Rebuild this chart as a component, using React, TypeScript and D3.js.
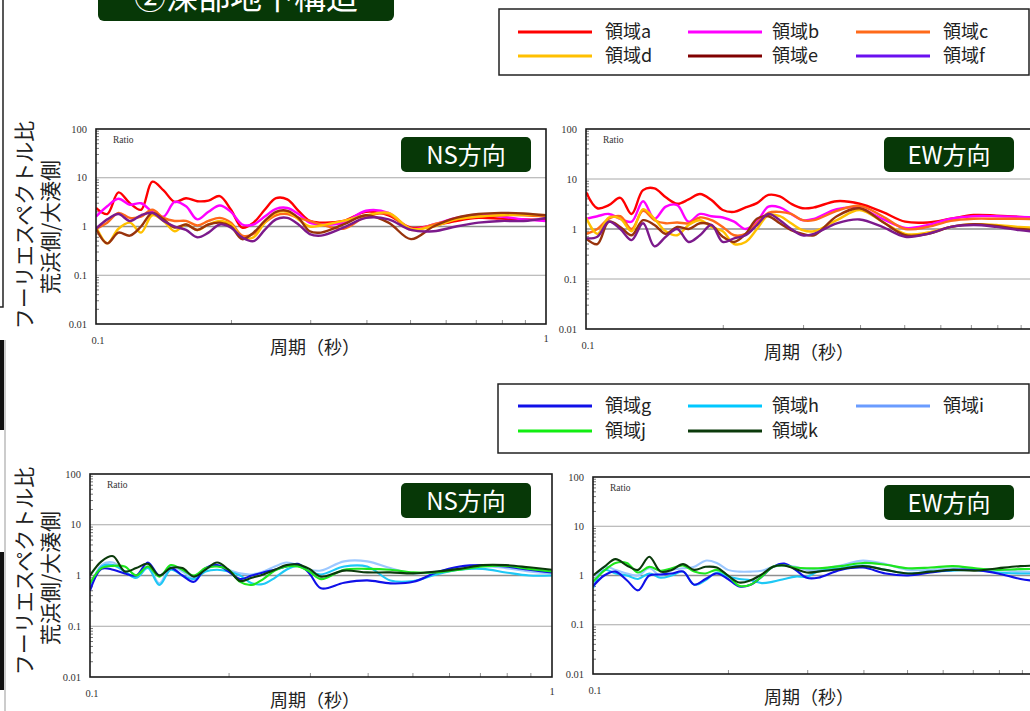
import React from "react";
import * as d3 from "d3";

// periods (s) shared by every curve
const periods = [
  0.1, 0.1059, 0.1122, 0.1189, 0.1259, 0.1334, 0.1413, 0.1496, 0.1585, 0.1679, 0.1778,
  0.1884, 0.1995, 0.2113, 0.2239, 0.2371, 0.2512, 0.2661, 0.2818, 0.2985, 0.3162,
  0.3548, 0.3981, 0.4467, 0.5012, 0.5623, 0.631, 0.7079, 0.7943, 0.8913, 1.0,
];

// upper group, NS
const nsA = [2.4, 1.8, 5.0, 3.0, 2.2, 8.3, 5.5, 3.2, 3.8, 3.3, 3.4, 4.2, 2.2, 0.95, 1.2, 2.2, 3.8, 3.6, 2.1, 1.3, 1.2, 1.3, 2.0, 1.7, 0.95, 1.05, 1.3, 1.5, 1.45, 1.4, 1.35];
const nsB = [1.6, 2.6, 3.7, 2.8, 3.0, 2.0, 1.6, 3.2, 2.6, 1.4, 2.0, 2.7, 2.0, 1.1, 1.1, 1.6, 2.3, 2.4, 1.8, 1.2, 1.1, 1.2, 2.1, 1.9, 0.9, 1.1, 1.5, 1.75, 1.6, 1.4, 1.3];
const nsC = [0.9, 1.2, 1.9, 1.5, 1.6, 2.2, 1.5, 1.3, 1.3, 1.05, 1.3, 1.5, 1.2, 0.65, 0.7, 1.2, 1.7, 1.8, 1.5, 1.3, 1.1, 0.9, 1.6, 1.8, 0.85, 1.1, 1.4, 1.6, 1.7, 1.7, 1.6];
const nsD = [1.0, 0.45, 0.9, 1.2, 0.75, 1.7, 1.3, 0.8, 1.1, 0.85, 1.1, 1.3, 1.1, 0.6, 0.6, 1.2, 1.9, 2.0, 1.4, 1.0, 1.05, 1.3, 1.7, 1.9, 0.9, 1.0, 1.4, 1.6, 1.7, 1.75, 1.7];
const nsE = [0.9, 0.45, 0.75, 0.65, 1.0, 1.9, 1.4, 0.95, 1.1, 0.85, 1.1, 1.2, 1.0, 0.55, 0.75, 1.3, 2.0, 2.1, 1.5, 0.8, 0.75, 1.1, 1.7, 1.2, 0.55, 1.0, 1.5, 1.8, 1.9, 1.85, 1.7];
const nsF = [0.9, 1.4, 1.8, 1.3, 1.7, 1.9, 1.3, 1.0, 0.85, 0.6, 0.75, 1.1, 0.95, 0.6, 0.5, 0.85, 1.4, 1.5, 1.1, 0.7, 0.65, 0.95, 1.5, 1.4, 0.85, 0.8, 1.0, 1.2, 1.3, 1.3, 1.5];

// upper group, EW
const ewA = [5.5, 2.6, 3.0, 4.2, 2.0, 6.0, 6.5, 4.3, 3.2, 3.9, 5.0, 3.8, 2.4, 2.2, 2.7, 3.3, 4.8, 4.5, 3.2, 2.6, 2.7, 3.6, 3.2, 2.2, 1.4, 1.35, 1.6, 1.9, 1.85, 1.75, 1.6];
const ewB = [1.6, 1.8, 2.0, 1.6, 1.4, 3.6, 1.6, 2.8, 3.0, 1.4, 2.0, 1.8, 1.7, 1.4, 1.0, 1.4, 2.8, 2.7, 2.0, 1.5, 1.6, 2.5, 2.6, 1.6, 1.05, 1.2, 1.6, 1.8, 1.8, 1.75, 1.7];
const ewC = [0.8, 1.0, 1.6, 1.8, 1.0, 2.3, 1.5, 1.3, 1.35, 1.3, 1.7, 1.5, 1.1, 0.75, 0.8, 1.3, 2.1, 2.2, 2.0, 1.5, 1.5, 2.3, 2.9, 1.8, 1.0, 1.1, 1.45, 1.6, 1.6, 1.6, 1.55];
const ewD = [1.7, 0.8, 1.7, 1.6, 0.9, 2.5, 1.6, 0.9, 0.75, 1.2, 1.5, 1.1, 0.9, 0.5, 0.55, 1.0, 1.9, 1.8, 1.3, 0.95, 0.9, 1.5, 2.4, 1.4, 0.8, 0.85, 1.1, 1.25, 1.2, 1.1, 1.05];
const ewE = [0.65, 0.5, 1.4, 1.1, 0.75, 1.5, 1.2, 0.8, 1.1, 1.0, 1.3, 1.2, 0.7, 0.55, 0.8, 1.6, 1.8, 1.3, 0.95, 0.8, 0.75, 1.8, 2.6, 1.4, 0.75, 0.8, 1.1, 1.25, 1.15, 1.0, 0.95];
const ewF = [0.65, 0.7, 1.4, 1.0, 0.6, 1.3, 0.45, 0.7, 1.0, 0.55, 0.75, 1.2, 0.55, 0.65, 0.75, 1.2, 2.0, 1.5, 1.0, 0.75, 0.8, 1.3, 1.55, 1.1, 0.7, 0.8, 1.1, 1.2, 1.1, 0.95, 0.85];

// lower group, NS
const nsG = [0.5, 1.35, 1.3, 1.1, 1.0, 1.8, 1.0, 1.4, 1.0, 0.75, 1.4, 1.6, 1.2, 0.85, 1.0, 1.15, 1.3, 1.5, 1.7, 1.1, 0.56, 0.72, 0.8, 0.7, 0.75, 1.15, 1.5, 1.6, 1.5, 1.3, 1.15];
const nsH = [0.55, 1.5, 1.6, 1.2, 0.9, 1.4, 0.65, 1.3, 1.0, 0.85, 1.2, 1.3, 1.2, 1.0, 0.7, 0.68, 0.9, 1.3, 1.55, 1.2, 1.05, 1.5, 1.5, 0.8, 0.78, 1.05, 1.3, 1.35, 1.15, 1.0, 1.0];
const nsI = [0.55, 1.6, 1.8, 1.2, 0.9, 1.5, 0.7, 1.5, 1.2, 0.9, 1.3, 1.6, 1.3, 1.1, 1.05, 1.2, 1.5, 1.8, 1.6, 1.3, 1.25, 1.9, 1.9, 1.4, 1.1, 1.2, 1.45, 1.55, 1.4, 1.2, 1.1];
const nsJ = [0.7, 1.4, 1.55, 1.5, 1.0, 1.5, 0.95, 1.6, 1.3, 1.0, 1.4, 1.5, 1.3, 0.75, 0.65, 0.85, 1.25, 1.5, 1.5, 1.2, 0.85, 1.3, 1.35, 1.3, 1.15, 1.15, 1.3, 1.5, 1.55, 1.35, 1.2];
const nsK = [1.0, 1.9, 2.4, 1.2, 1.4, 1.7, 1.0, 1.4, 1.4, 0.95, 1.3, 1.8, 1.3, 0.78, 0.9, 1.05, 1.3, 1.6, 1.65, 1.35, 0.95, 1.25, 1.15, 1.15, 1.1, 1.2, 1.35, 1.6, 1.6, 1.45, 1.3];

// lower group, EW
const ewG = [0.6, 1.0, 1.2, 0.8, 0.5, 1.0, 1.05, 1.1, 1.2, 0.65, 0.85, 1.1, 0.85, 0.6, 0.65, 0.95, 1.5, 1.75, 1.3, 0.9, 0.9, 1.3, 1.45, 1.1, 1.0, 1.15, 1.3, 1.3, 1.1, 0.85, 0.75];
const ewH = [0.55, 1.3, 1.1, 1.0, 0.85, 1.1, 0.9, 1.0, 1.2, 0.65, 0.8, 1.15, 0.95, 0.85, 0.8, 0.7, 0.75, 0.85, 0.95, 0.95, 1.2, 1.4, 1.6, 1.3, 1.1, 1.2, 1.25, 1.3, 1.15, 1.1, 1.1];
const ewI = [0.7, 1.5, 1.3, 1.1, 1.0, 1.4, 1.0, 1.3, 1.4, 1.5, 2.0, 1.8, 1.3, 1.2, 1.2, 1.25, 1.5, 1.6, 1.5, 1.3, 1.3, 1.6, 2.0, 1.7, 1.3, 1.3, 1.4, 1.35, 1.3, 1.2, 1.2];
const ewJ = [0.75, 1.25, 1.8, 1.8, 1.15, 1.5, 1.25, 1.4, 1.6, 1.2, 1.1, 1.3, 1.0, 0.62, 0.65, 0.95, 1.5, 1.6, 1.45, 1.4, 1.4, 1.55, 1.8, 1.65, 1.4, 1.45, 1.55, 1.4, 1.3, 1.35, 1.35];
const ewK = [1.0, 1.5, 2.15, 1.6, 1.3, 2.4, 1.2, 1.3, 1.7, 1.3, 1.5, 1.45, 1.0, 0.72, 0.8, 1.05, 1.5, 1.6, 1.35, 1.15, 1.2, 1.35, 1.55, 1.3, 1.1, 1.2, 1.3, 1.25, 1.4, 1.55, 1.6];

const upperNames = ["領域a", "領域b", "領域c", "領域d", "領域e", "領域f"];
const upperColors = ["#ff0000", "#ff00ff", "#ff6a1a", "#ffc000", "#98330c", "#7c1a8c"];
const upperLegendColors = ["#ff0000", "#ff00ff", "#ff6a1a", "#ffc000", "#800000", "#6a10f0"];
const lowerNames = ["領域g", "領域h", "領域i", "領域j", "領域k"];
const lowerColors = ["#1010e8", "#1ec8f5", "#9cc8ff", "#1ee61e", "#0b3a0b"];
const lowerLegendColors = ["#1010e8", "#00c8ff", "#6a9cff", "#11ee11", "#0b3a0b"];

const yTicks = [100, 10, 1, 0.1, 0.01];
const yTickText = ["100", "10", "1", "0.1", "0.01"];

const JP = "'Noto Sans CJK JP', 'Noto Sans', sans-serif";
const SERIF = "'Liberation Serif', 'DejaVu Serif', serif";
const BADGE = "#073807";

type PanelProps = {
  id: string;
  left: number;
  right: number;
  top: number;
  bottom: number;
  badge: string;
  badgeX: number;
  badgeY: number;
  titleX: number;
  data: number[][];
  colors: string[];
  width: number;
};

const Panel = ({ id, left, right, top, bottom, badge, badgeX, badgeY, titleX, data, colors, width }: PanelProps) => {
  const x = d3.scaleLog().domain([0.1, 1]).range([left, right]);
  const y = d3.scaleLog().domain([0.01, 100]).range([bottom, top]);
  const line = d3
    .line<number>()
    .x((_, i) => x(periods[i]))
    .y((d) => y(d))
    .curve(d3.curveCatmullRom.alpha(0.5));

  const minorY: number[] = [];
  [0.01, 0.1, 1, 10].forEach((dec) => {
    for (let k = 2; k <= 9; k++) minorY.push(dec * k);
  });
  const minorX = [0.2, 0.3, 0.4, 0.5, 0.6, 0.7, 0.8, 0.9];

  return (
    <g>
      <defs>
        <clipPath id={id}>
          <rect x={left} y={top} width={right - left} height={bottom - top} />
        </clipPath>
      </defs>
      {[10, 0.1].map((v) => (
        <line key={v} x1={left} x2={right} y1={y(v)} y2={y(v)} stroke="#a8a8a8" strokeWidth={1} />
      ))}
      <line x1={left} x2={right} y1={y(1)} y2={y(1)} stroke="#8f8f8f" strokeWidth={1.7} />
      {minorY.map((v) => (
        <line key={v} x1={left} x2={left + 3} y1={y(v)} y2={y(v)} stroke="#555" strokeWidth={0.8} />
      ))}
      {minorX.map((v) => (
        <line key={v} x1={x(v)} x2={x(v)} y1={bottom} y2={bottom - 4} stroke="#777" strokeWidth={0.8} />
      ))}
      <g clipPath={`url(#${id})`}>
        {data.map((s, i) => (
          <path key={i} d={line(s) || ""} fill="none" stroke={colors[i]} strokeWidth={width} strokeLinejoin="round" />
        ))}
      </g>
      <rect x={left} y={top} width={right - left} height={bottom - top} fill="none" stroke="#1a1a1a" strokeWidth={1.6} />
      {yTicks.map((v, i) => (
        <text key={v} x={left - 9} y={y(v)} dy="0.35em" textAnchor="end" fontFamily={SERIF} fontSize={10.5} fill="#333">
          {yTickText[i]}
        </text>
      ))}
      <text x={left + 2} y={bottom + 20} textAnchor="middle" fontFamily={SERIF} fontSize={10.5} fill="#333">0.1</text>
      {right < 1025 && (
        <text x={right} y={bottom + 18} textAnchor="middle" fontFamily={SERIF} fontSize={10.5} fill="#333">1</text>
      )}
      <text x={left + 17} y={top + 14} fontFamily={SERIF} fontSize={9.5} fill="#333">Ratio</text>
      <rect x={badgeX} y={badgeY} width={130} height={35} rx={5} fill={BADGE} />
      <text x={badgeX + 65} y={badgeY + 18} dy="0.36em" textAnchor="middle" fontFamily={JP} fontSize={24} fill="#fff">
        {badge}
      </text>
      <text x={titleX} y={bottom + 30} textAnchor="middle" fontFamily={JP} fontSize={18} fill="#222">
        周期（秒）
      </text>
    </g>
  );
};

const legendCols = [
  [518, 592, 605],
  [688, 762, 772],
  [856, 930, 943],
];

const Legend = ({ x, y, names, colors, rows }: { x: number; y: number; names: string[]; colors: string[]; rows: number[] }) => (
  <g>
    <rect x={x} y={y} width={1029 - x} height={rows[2]} fill="#fff" stroke="#222" strokeWidth={1.5} />
    {names.map((n, i) => {
      const c = legendCols[i % 3];
      const ry = rows[Math.floor(i / 3)];
      return (
        <g key={n}>
          <line x1={c[0]} x2={c[1]} y1={ry} y2={ry} stroke={colors[i]} strokeWidth={3} />
          <text x={c[2]} y={ry} dy="0.36em" fontFamily={JP} fontSize={18} fill="#222">
            {n}
          </text>
        </g>
      );
    })}
  </g>
);

const YTitle = ({ cx1, cy1, cx2, cy2 }: { cx1: number; cy1: number; cx2: number; cy2: number }) => (
  <g fontFamily={JP} fill="#222" fontSize={21}>
    <text transform={`translate(${cx1},${cy1}) rotate(-90)`} textAnchor="middle" dy="0.36em">
      フーリエスペクトル比
    </text>
    <text transform={`translate(${cx2},${cy2}) rotate(-90)`} textAnchor="middle" dy="0.36em">
      荒浜側/大湊側
    </text>
  </g>
);

export default function App() {
  const lowerOrder = [lowerColors[2], lowerColors[1], lowerColors[0], lowerColors[3], lowerColors[4]];
  return (
    <div style={{ position: "absolute", left: 0, top: 0 }}>
      <svg width={1030} height={711} style={{ display: "block", background: "#fff" }}>
        {/* slide frame fragments */}
        <path d="M3,0 V307 H0" fill="none" stroke="#222" strokeWidth={1.5} />
        <rect x={0} y={340} width={4} height={90} fill="#111" />
        <line x1={5} x2={5} y1={340} y2={711} stroke="#bbb" strokeWidth={1.5} />
        <rect x={0} y={552} width={4} height={138} fill="#111" />

        {/* section title */}
        <rect x={98} y={-12} width={296} height={33} rx={6} fill={BADGE} />
        <text x={246} y={9} textAnchor="middle" fontFamily={JP} fontSize={32} fill="#fff">
          ②深部地下構造
        </text>

        <Legend x={499} y={9} names={upperNames} colors={upperLegendColors} rows={[32, 56, 66]} />
        <Legend x={498} y={384} names={lowerNames} colors={lowerLegendColors} rows={[406, 431, 69]} />

        <YTitle cx1={24} cy1={225} cx2={50} cy2={227} />
        <YTitle cx1={24} cy1={571} cx2={50} cy2={578} />

        <Panel id="p1" left={96} right={546} top={129} bottom={324} badge="NS方向" badgeX={401} badgeY={137} titleX={315}
          data={[nsA, nsB, nsC, nsD, nsE, nsF]} colors={upperColors} width={2.4} />
        <Panel id="p2" left={586} right={1042} top={129} bottom={329} badge="EW方向" badgeX={884} badgeY={137} titleX={809}
          data={[ewA, ewB, ewC, ewD, ewE, ewF]} colors={upperColors} width={2.4} />
        <Panel id="p3" left={90} right={552} top={474} bottom={677} badge="NS方向" badgeX={401} badgeY={483} titleX={315}
          data={[nsI, nsH, nsG, nsJ, nsK]} colors={lowerOrder} width={2.1} />
        <Panel id="p4" left={593} right={1043} top={477} bottom={674} badge="EW方向" badgeX={884} badgeY={485} titleX={809}
          data={[ewI, ewH, ewG, ewJ, ewK]} colors={lowerOrder} width={2.1} />
      </svg>
    </div>
  );
}
